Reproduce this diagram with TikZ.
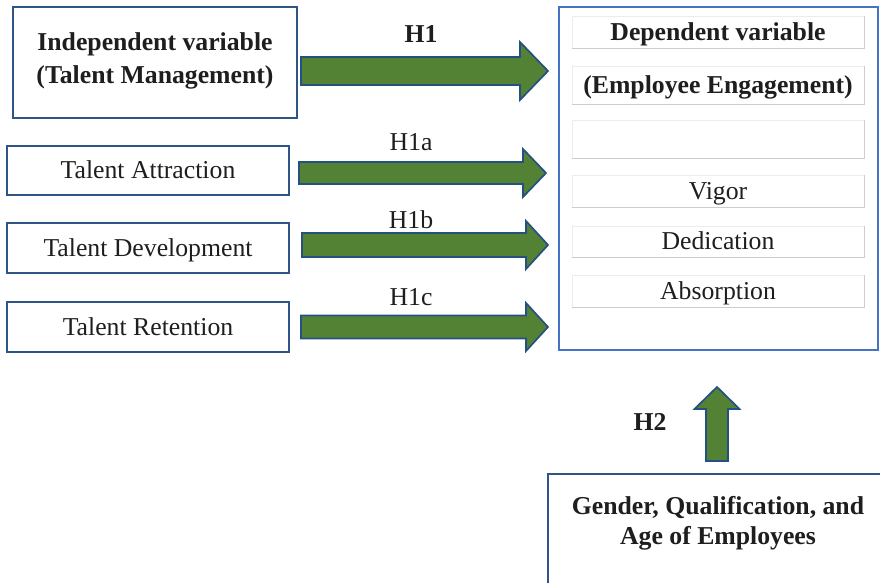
\documentclass[tikz,border=0pt]{standalone}
\usepackage{fontspec}
\setmainfont{Liberation Serif}
\usetikzlibrary{positioning}
\definecolor{boxblue}{RGB}{47, 84, 135}
\definecolor{depblue}{RGB}{68, 114, 196}
\definecolor{arrgreen}{RGB}{84, 130, 53}
\definecolor{arrline}{RGB}{37, 80, 130}
\definecolor{rowgray}{RGB}{205, 205, 205}
\definecolor{rowfaint}{RGB}{236, 236, 236}
\definecolor{txtclr}{RGB}{30, 30, 30}
\def\pxu{0.7113pt}
\tikzset{
  % Bloklar
  varbox/.style  = {draw=boxblue, line width=1.3pt, inner sep=0pt, text=txtclr,
                    font=\fontsize{18.3}{22}\selectfont},
  depbox/.style  = {draw=depblue, line width=1.5pt, inner sep=0pt},
  rowbox/.style  = {draw=rowfaint, line width=0.6pt, inner sep=0pt, text=txtclr,
                    minimum width=292*\pxu, text height=12pt, text depth=0pt,
                    font=\fontsize{18.3}{22}\selectfont},
  rowbold/.style = {rowbox, font=\fontsize{18.3}{22}\selectfont\bfseries},
  rowedge/.style = {draw=rowgray, line width=0.6pt},
  % Yozuvlar
  hyplab/.style  = {inner sep=0pt, text=txtclr, font=\fontsize{18.3}{22}\selectfont},
  boldlab/.style = {hyplab, font=\fontsize{18.3}{22}\selectfont\bfseries},
  % Strelkalar
  blockarrow/.style = {fill=arrgreen, draw=arrline, line width=1.2pt, line join=miter},
}
% gorizontal strelka: chap x, uch x, o'rta y, tana yarmi, bosh yarmi, bosh uzunligi
\newcommand{\harrow}[6]{%
  \draw[blockarrow] (#1,#3-#4) -- (#2-#6,#3-#4) -- (#2-#6,#3-#5) -- (#2,#3) --
    (#2-#6,#3+#5) -- (#2-#6,#3+#4) -- (#1,#3+#4) -- cycle;}
% vertikal strelka: o'rta x, past y, uch y, tana yarmi, bosh yarmi, bosh uzunligi
\newcommand{\varrow}[6]{%
  \draw[blockarrow] (#1-#4,#2) -- (#1-#4,#3+#6) -- (#1-#5,#3+#6) -- (#1,#3) --
    (#1+#5,#3+#6) -- (#1+#4,#3+#6) -- (#1+#4,#2) -- cycle;}

\begin{document}
\begin{tikzpicture}[x={(0.025cm,0)}, y={(0,-0.025cm)}]
  \clip (0,0) rectangle (880,583);
  \fill[white] (0,0) rectangle (880,583);
  % Mustaqil o'zgaruvchi
  \node[varbox, minimum width=284*\pxu, minimum height=111*\pxu] (iv) at (155,62.5) {};
  \node[boldlab, align=center, font=\fontsize{18.3}{23.5}\selectfont\bfseries] (ivtxt) at (155,61)
    {Independent variable\\(Talent Management)};
  \node[varbox, minimum width=282*\pxu, minimum height=49*\pxu,
        text height=12pt, text depth=0pt] (ta) at (148,170.5) {Talent Attraction};
  \node[varbox, minimum width=282*\pxu, minimum height=50*\pxu,
        text height=12pt, text depth=0pt] (td) at (148,248) {Talent Development};
  \node[varbox, minimum width=282*\pxu, minimum height=50*\pxu,
        text height=12pt, text depth=0pt] (tr) at (148,327) {Talent Retention};
  % Bog'liq o'zgaruvchi
  \node[depbox, minimum width=319*\pxu, minimum height=343*\pxu] (dv) at (718.5,178.5) {};
  \node[rowbold, minimum height=32*\pxu] (r1) at (718,32) {Dependent variable};
  \node[rowbold, minimum height=38*\pxu] (r2) at (718,85) {(Employee Engagement)};
  \node[rowbox,  minimum height=38*\pxu] (r3) at (718,139) {};
  \node[rowbox,  minimum height=32*\pxu] (r4) at (718,191) {Vigor};
  \node[rowbox,  minimum height=31*\pxu] (r5) at (718,241.5) {Dedication};
  \node[rowbox,  minimum height=32*\pxu] (r6) at (718,291) {Absorption};
  \foreach \r in {r1,r2,r3,r4,r5,r6}
    \draw[rowedge] (\r.south west) -- (\r.south east) -- (\r.north east);
  % Nazorat o'zgaruvchilari
  \node[varbox, minimum width=342*\pxu, minimum height=130*\pxu, anchor=north west] (ctl) at (547,473) {};
  \node[boldlab, align=center, font=\fontsize{18.3}{21.3}\selectfont\bfseries] (ctltxt) at (718,523)
    {Gender, Qualification, and\\Age of Employees};
  % Strelkalar
  \harrow{301}{548}{71}{14}{29}{28}
  \harrow{299}{546}{173}{11}{24}{23}
  \harrow{302}{548}{245}{12}{24}{22}
  \harrow{301}{548}{327}{11.5}{24}{22}
  \varrow{717}{461}{387}{11}{22.5}{22}
  % Gipotezalar
  \node[boldlab] (h1)  at (421,34)  {H1};
  \node[hyplab]  (h1a) at (411,142) {H1a};
  \node[hyplab]  (h1b) at (411,220) {H1b};
  \node[hyplab]  (h1c) at (411,297) {H1c};
  \node[boldlab] (h2)  at (650,422) {H2};
\end{tikzpicture}
\end{document}
